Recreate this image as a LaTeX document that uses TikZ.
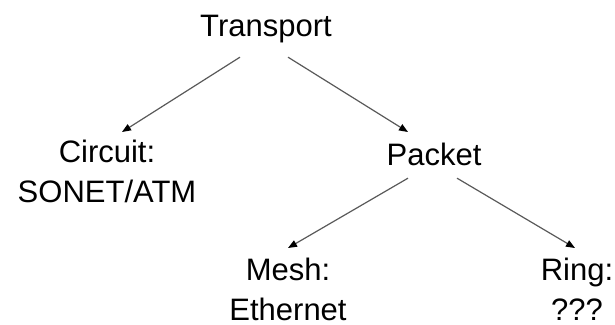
\documentclass[tikz,border=0pt]{standalone}
\usepackage{fontspec}
\setmainfont{Liberation Sans}
\usetikzlibrary{arrows.meta,positioning}

\begin{document}
\begin{tikzpicture}[>={Triangle[length=9pt,width=7pt,color=black]},
  word/.style={font=\fontsize{31}{40}\selectfont,align=center,inner sep=0pt},
  link/.style={->,draw=black!65,line width=1.2pt}]
   \useasboundingbox (0,0) rectangle (615pt,-324pt);
   \node[word,anchor=north] (tran) at (266pt,-15pt) {Transport};
   \node (circ) [below left=125pt and 159pt of tran.north,anchor=north,word] {Circuit:\\SONET/ATM};
   \node (pack) [below right=128pt and 168pt of tran.north,anchor=north,word] {Packet};
   \node (mesh) [below left=115pt and 146pt of pack.north,anchor=north,word] {Mesh:\\Ethernet};
   \node (ring) [below right=115pt and 143pt of pack.north,anchor=north,word] {Ring:\\???};
    \draw[link] ([xshift=-26pt,yshift=-14pt]tran.south) -- ([xshift=15pt,yshift=8pt]circ.north);
    \draw[link] ([xshift=22pt,yshift=-14pt]tran.south) -- ([xshift=-26pt,yshift=11pt]pack.north);
    \draw[link] ([xshift=-26pt,yshift=-12pt]pack.south) -- ([yshift=10pt]mesh.north);
    \draw[link] ([xshift=23pt,yshift=-12pt]pack.south) -- ([xshift=-2pt,yshift=10pt]ring.north);
\end{tikzpicture}
\end{document}
